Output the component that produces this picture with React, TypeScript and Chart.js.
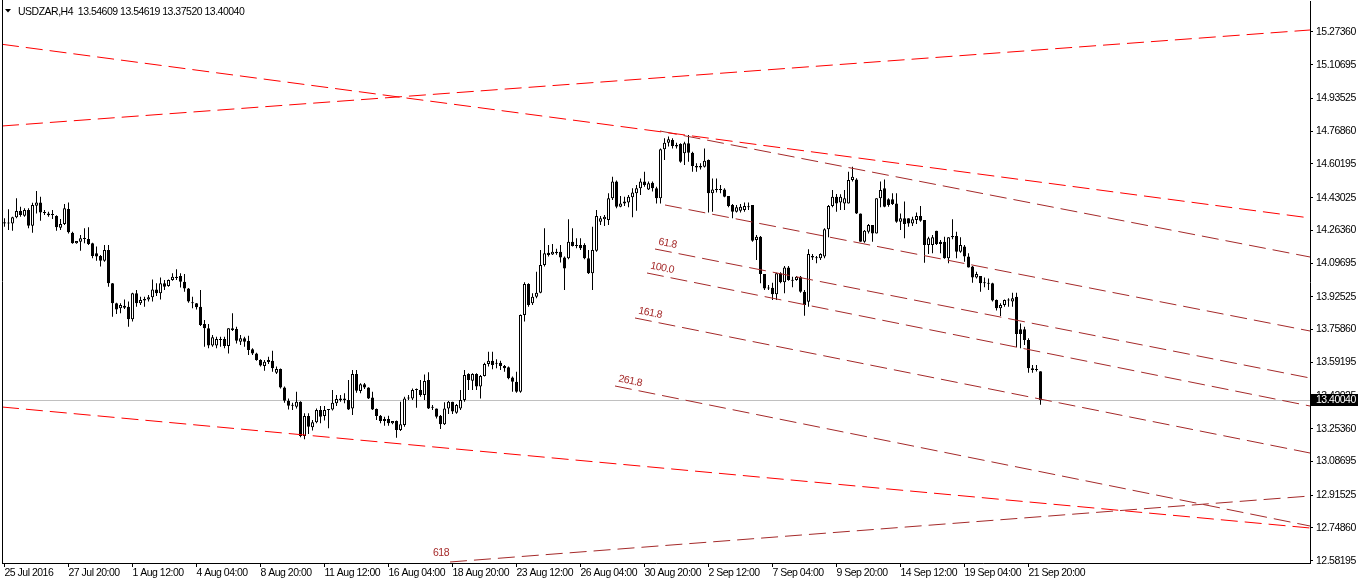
import React, { useEffect, useRef } from 'react';
import { Chart, registerables } from 'chart.js';

Chart.register(...registerables);

const titleText = 'USDZAR,H4  13.54609 13.54619 13.37520 13.40040';
const currentPrice = 13.4004;

const xTickLabels = [
  '25 Jul 2016', '27 Jul 20:00', '1 Aug 12:00', '4 Aug 04:00', '8 Aug 20:00', '11 Aug 12:00',
  '16 Aug 04:00', '18 Aug 20:00', '23 Aug 12:00', '26 Aug 04:00', '30 Aug 20:00', '2 Sep 12:00',
  '7 Sep 04:00', '9 Sep 20:00', '14 Sep 12:00', '19 Sep 04:00', '21 Sep 20:00',
];
const barsPerLabel = 16;

const yTickValues = [
  15.2736, 15.10695, 14.93525, 14.7686, 14.60195, 14.43025, 14.2636, 14.09695, 13.92525,
  13.7586, 13.59195, 13.42025, 13.2536, 13.08695, 12.91525, 12.7486, 12.58195,
];

const opens = [
  14.299, 14.299, 14.299, 14.330, 14.362, 14.338, 14.367, 14.287, 14.389, 14.406,
  14.354, 14.350, 14.342, 14.337, 14.277, 14.296, 14.372, 14.252, 14.198, 14.206,
  14.222, 14.220, 14.198, 14.147, 14.133, 14.109, 14.164, 13.994, 13.892, 13.867,
  13.880, 13.875, 13.811, 13.943, 13.892, 13.906, 13.912, 13.923, 13.963, 13.943,
  13.994, 13.980, 14.011, 14.028, 14.031, 14.002, 13.968, 13.897, 13.892, 13.875,
  13.787, 13.765, 13.677, 13.677, 13.707, 13.710, 13.675, 13.756, 13.761, 13.697,
  13.714, 13.700, 13.658, 13.637, 13.603, 13.573, 13.593, 13.600, 13.539, 13.558,
  13.464, 13.396, 13.373, 13.366, 13.391, 13.217, 13.318, 13.261, 13.286, 13.349,
  13.318, 13.352, 13.352, 13.383, 13.400, 13.408, 13.400, 13.357, 13.532, 13.446,
  13.480, 13.463, 13.412, 13.354, 13.320, 13.293, 13.303, 13.281, 13.293, 13.247,
  13.273, 13.408, 13.408, 13.451, 13.451, 13.425, 13.502, 13.361, 13.357, 13.320,
  13.276, 13.357, 13.391, 13.335, 13.357, 13.400, 13.532, 13.498, 13.532, 13.468,
  13.522, 13.583, 13.600, 13.585, 13.590, 13.573, 13.566, 13.515, 13.493, 13.442,
  13.833, 13.990, 13.892, 13.926, 13.946, 14.087, 14.150, 14.141, 14.155, 14.155,
  14.126, 14.121, 14.206, 14.184, 14.189, 14.189, 14.121, 14.045, 14.160, 14.308,
  14.320, 14.316, 14.427, 14.512, 14.384, 14.401, 14.405, 14.432, 14.452, 14.478,
  14.512, 14.472, 14.506, 14.478, 14.427, 14.676, 14.710, 14.724, 14.698, 14.703,
  14.656, 14.707, 14.659, 14.591, 14.584, 14.588, 14.622, 14.452, 14.469, 14.469,
  14.472, 14.439, 14.393, 14.359, 14.364, 14.367, 14.381, 14.393, 14.214, 14.231,
  14.041, 13.968, 13.972, 13.938, 14.045, 14.000, 14.075, 14.011, 14.011, 14.028,
  13.951, 13.900, 14.126, 14.126, 14.121, 14.130, 14.269, 14.388, 14.435, 14.405,
  14.401, 14.401, 14.520, 14.523, 14.350, 14.206, 14.257, 14.291, 14.248, 14.427,
  14.478, 14.422, 14.422, 14.401, 14.308, 14.325, 14.325, 14.299, 14.316, 14.337,
  14.316, 14.189, 14.189, 14.262, 14.206, 14.206, 14.121, 14.228, 14.235, 14.155,
  14.181, 14.130, 14.079, 14.024, 14.031, 13.994, 13.994, 13.994, 13.909, 13.867,
  13.884, 13.906, 13.901, 13.926, 13.760, 13.760, 13.705, 13.561, 13.553, 13.54609,
];

const highs = [
  14.325, 14.371, 14.333, 14.427, 14.384, 14.376, 14.376, 14.404, 14.464, 14.435,
  14.367, 14.359, 14.367, 14.340, 14.321, 14.398, 14.406, 14.257, 14.209, 14.240,
  14.274, 14.279, 14.201, 14.181, 14.138, 14.189, 14.189, 13.996, 13.895, 13.892,
  13.912, 13.901, 13.946, 13.960, 13.926, 13.926, 13.934, 14.014, 13.994, 14.024,
  14.011, 14.014, 14.045, 14.065, 14.045, 14.041, 13.970, 13.926, 13.894, 13.960,
  13.807, 13.787, 13.731, 13.722, 13.722, 13.722, 13.765, 13.841, 13.773, 13.731,
  13.722, 13.727, 13.663, 13.641, 13.607, 13.603, 13.620, 13.651, 13.570, 13.560,
  13.468, 13.408, 13.386, 13.442, 13.393, 13.332, 13.332, 13.298, 13.357, 13.369,
  13.369, 13.353, 13.451, 13.425, 13.425, 13.434, 13.502, 13.553, 13.553, 13.485,
  13.487, 13.465, 13.442, 13.357, 13.323, 13.315, 13.320, 13.293, 13.295, 13.391,
  13.417, 13.425, 13.459, 13.459, 13.502, 13.530, 13.541, 13.374, 13.357, 13.323,
  13.388, 13.395, 13.391, 13.380, 13.451, 13.553, 13.536, 13.536, 13.536, 13.527,
  13.590, 13.646, 13.646, 13.607, 13.600, 13.578, 13.570, 13.519, 13.544, 13.835,
  14.000, 13.994, 13.943, 14.053, 14.164, 14.274, 14.189, 14.194, 14.170, 14.189,
  14.130, 14.320, 14.274, 14.223, 14.223, 14.198, 14.164, 14.282, 14.367, 14.337,
  14.342, 14.452, 14.537, 14.517, 14.439, 14.435, 14.444, 14.478, 14.494, 14.528,
  14.562, 14.512, 14.512, 14.486, 14.681, 14.732, 14.741, 14.732, 14.710, 14.707,
  14.715, 14.749, 14.664, 14.605, 14.605, 14.681, 14.625, 14.528, 14.528, 14.494,
  14.478, 14.439, 14.398, 14.393, 14.398, 14.405, 14.405, 14.393, 14.240, 14.235,
  14.041, 13.985, 13.997, 14.048, 14.050, 14.082, 14.082, 14.028, 14.031, 14.031,
  13.960, 14.167, 14.143, 14.133, 14.147, 14.274, 14.393, 14.469, 14.449, 14.447,
  14.469, 14.562, 14.588, 14.529, 14.350, 14.265, 14.296, 14.291, 14.427, 14.512,
  14.523, 14.427, 14.452, 14.452, 14.350, 14.410, 14.325, 14.333, 14.354, 14.388,
  14.316, 14.231, 14.240, 14.262, 14.214, 14.231, 14.228, 14.320, 14.257, 14.228,
  14.189, 14.147, 14.082, 14.053, 14.031, 14.024, 14.019, 13.997, 13.912, 13.892,
  13.912, 13.918, 13.946, 13.946, 13.790, 13.773, 13.714, 13.578, 13.578, 13.54619,
];

const lows = [
  14.282, 14.265, 14.262, 14.325, 14.333, 14.333, 14.274, 14.252, 14.350, 14.313,
  14.342, 14.333, 14.321, 14.262, 14.265, 14.291, 14.248, 14.196, 14.196, 14.160,
  14.198, 14.189, 14.121, 14.109, 14.079, 14.104, 13.977, 13.824, 13.838, 13.841,
  13.863, 13.773, 13.799, 13.875, 13.884, 13.875, 13.901, 13.901, 13.929, 13.912,
  13.960, 13.977, 14.007, 14.011, 13.973, 13.951, 13.895, 13.867, 13.861, 13.777,
  13.671, 13.663, 13.671, 13.663, 13.671, 13.663, 13.637, 13.751, 13.688, 13.680,
  13.671, 13.629, 13.629, 13.600, 13.570, 13.549, 13.583, 13.544, 13.532, 13.459,
  13.386, 13.352, 13.349, 13.357, 13.210, 13.200, 13.227, 13.244, 13.281, 13.281,
  13.295, 13.256, 13.346, 13.369, 13.391, 13.383, 13.349, 13.323, 13.437, 13.434,
  13.456, 13.405, 13.349, 13.298, 13.281, 13.269, 13.269, 13.276, 13.208, 13.242,
  13.264, 13.400, 13.400, 13.361, 13.417, 13.400, 13.354, 13.349, 13.306, 13.252,
  13.273, 13.329, 13.329, 13.330, 13.349, 13.391, 13.451, 13.451, 13.451, 13.408,
  13.519, 13.570, 13.556, 13.561, 13.553, 13.544, 13.505, 13.442, 13.437, 13.437,
  13.799, 13.875, 13.884, 13.918, 13.943, 14.079, 14.130, 14.138, 14.140, 14.100,
  13.960, 14.116, 14.181, 14.172, 14.164, 14.116, 14.041, 13.960, 14.155, 14.291,
  14.286, 14.291, 14.418, 14.376, 14.381, 14.388, 14.381, 14.330, 14.364, 14.444,
  14.486, 14.469, 14.461, 14.401, 14.401, 14.622, 14.690, 14.681, 14.681, 14.608,
  14.596, 14.613, 14.562, 14.562, 14.574, 14.584, 14.354, 14.359, 14.456, 14.452,
  14.432, 14.381, 14.325, 14.354, 14.354, 14.359, 14.367, 14.206, 14.113, 13.994,
  13.960, 13.960, 13.909, 13.909, 13.994, 13.943, 14.007, 13.974, 14.007, 13.946,
  13.829, 13.875, 14.113, 14.096, 14.113, 14.121, 14.228, 14.381, 14.359, 14.367,
  14.367, 14.401, 14.512, 14.347, 14.206, 14.201, 14.248, 14.206, 14.248, 14.381,
  14.381, 14.384, 14.393, 14.303, 14.265, 14.223, 14.282, 14.286, 14.296, 14.308,
  14.099, 14.143, 14.147, 14.189, 14.147, 14.119, 14.096, 14.218, 14.121, 14.150,
  14.104, 14.075, 13.997, 14.019, 13.951, 13.974, 13.960, 13.901, 13.855, 13.828,
  13.875, 13.875, 13.875, 13.668, 13.663, 13.680, 13.539, 13.539, 13.545, 13.3752,
];

const closes = [
  14.305, 14.301, 14.330, 14.362, 14.342, 14.367, 14.287, 14.393, 14.406, 14.354,
  14.352, 14.340, 14.345, 14.279, 14.296, 14.376, 14.254, 14.198, 14.209, 14.223,
  14.220, 14.194, 14.133, 14.130, 14.109, 14.164, 13.994, 13.892, 13.861, 13.884,
  13.870, 13.811, 13.943, 13.892, 13.909, 13.914, 13.923, 13.963, 13.943, 13.994,
  13.977, 14.011, 14.028, 14.021, 14.002, 13.968, 13.901, 13.892, 13.872, 13.782,
  13.765, 13.677, 13.719, 13.710, 13.705, 13.675, 13.765, 13.765, 13.702, 13.714,
  13.697, 13.654, 13.637, 13.603, 13.575, 13.595, 13.603, 13.561, 13.558, 13.463,
  13.396, 13.371, 13.371, 13.391, 13.217, 13.318, 13.264, 13.286, 13.349, 13.315,
  13.349, 13.349, 13.386, 13.405, 13.408, 13.400, 13.352, 13.532, 13.447, 13.480,
  13.463, 13.408, 13.352, 13.318, 13.293, 13.303, 13.281, 13.293, 13.247, 13.276,
  13.408, 13.410, 13.451, 13.456, 13.425, 13.497, 13.357, 13.360, 13.315, 13.276,
  13.357, 13.391, 13.341, 13.374, 13.400, 13.527, 13.502, 13.532, 13.468, 13.522,
  13.583, 13.600, 13.578, 13.587, 13.573, 13.561, 13.510, 13.493, 13.442, 13.833,
  13.990, 13.884, 13.926, 13.946, 14.087, 14.147, 14.138, 14.155, 14.147, 14.126,
  14.070, 14.206, 14.184, 14.189, 14.172, 14.121, 14.045, 14.164, 14.337, 14.325,
  14.333, 14.427, 14.512, 14.384, 14.401, 14.410, 14.435, 14.456, 14.478, 14.512,
  14.494, 14.503, 14.478, 14.427, 14.676, 14.710, 14.727, 14.693, 14.690, 14.613,
  14.707, 14.659, 14.591, 14.584, 14.591, 14.618, 14.452, 14.472, 14.470, 14.472,
  14.435, 14.388, 14.359, 14.381, 14.384, 14.388, 14.382, 14.211, 14.231, 14.041,
  13.968, 13.972, 13.938, 14.045, 14.000, 14.075, 14.011, 14.007, 14.028, 13.951,
  13.884, 14.143, 14.133, 14.121, 14.143, 14.269, 14.388, 14.435, 14.401, 14.435,
  14.427, 14.520, 14.537, 14.350, 14.206, 14.262, 14.291, 14.248, 14.427, 14.469,
  14.384, 14.393, 14.398, 14.308, 14.325, 14.296, 14.299, 14.320, 14.337, 14.313,
  14.189, 14.223, 14.228, 14.194, 14.194, 14.121, 14.228, 14.235, 14.155, 14.189,
  14.130, 14.075, 14.024, 14.041, 13.994, 13.996, 13.992, 13.906, 13.867, 13.884,
  13.909, 13.906, 13.918, 13.736, 13.736, 13.705, 13.561, 13.553, 13.553, 13.4004,
];

// trend lines as [startBar, startPrice, endBar, endPrice]
const redTrendLines = [
  [-0.625, 15.211, 326.375, 14.3266],
  [-0.625, 14.795, 326.375, 15.2838],
  [-0.625, 13.3642, 326.375, 12.7482],
];
const fiboChannelLines = [
  [163.875, 14.7695, 326.375, 14.128],
  [165.125, 14.3928, 326.375, 13.7512],
  [162.625, 14.1687, 326.375, 13.5119],
  [160.625, 14.0465, 326.375, 13.3693],
  [157.625, 13.8174, 326.375, 13.13],
  [152.625, 13.4712, 326.375, 12.7584],
];
const fiboLevelLabels = ['', '', '61.8', '100.0', '161.8', '261.8'];
const lowerTrendLine = [111.375, 12.5751, 326.375, 12.9111];
const lowerTrendLabel = '618';

const X_MIN = -0.625;
const X_MAX = 326.375;
const Y_MIN = 12.56994;
const Y_MAX = 15.43144;

const FONT_FAMILY = '"Liberation Sans", Arial, sans-serif';
const FONT_SIZE = 10.5;
const LETTER_SPACING = '-0.5px';
const RED = '#FF0000';
const DARK_RED = '#A52A2A';

export default function App() {
  const canvasRef = useRef<HTMLCanvasElement | null>(null);

  useEffect(() => {
    document.body.style.margin = '0';
    document.body.style.overflow = 'hidden';
    const canvas = canvasRef.current;
    if (!canvas) return;

    const wickData = opens.map((_, i) => ({ x: i, y: [lows[i], highs[i]] }));
    const bodyData = opens.map((o, i) => ({ x: i, y: [o, closes[i]] }));
    const bodyColors = opens.map((o, i) => (closes[i] >= o ? '#FFFFFF' : '#000000'));

    const lineDataset = (seg: number[], color: string) => ({
      type: 'line' as const,
      data: [
        { x: seg[0], y: seg[1] },
        { x: seg[2], y: seg[3] },
      ],
      borderColor: color,
      borderWidth: 1,
      borderDash: [17, 7],
      pointRadius: 0,
      fill: false,
      tension: 0,
      order: 0,
    });

    const setSpacing = (chart: any) => {
      try {
        (chart.ctx as any).letterSpacing = LETTER_SPACING;
      } catch (e) {
        /* ignore */
      }
    };

    const overlay = {
      id: 'mtOverlay',
      beforeLayout(chart: any) {
        setSpacing(chart);
      },
      beforeDraw(chart: any) {
        const { ctx, width, height } = chart;
        setSpacing(chart);
        ctx.save();
        ctx.fillStyle = '#FFFFFF';
        ctx.fillRect(0, 0, width, height);
        ctx.restore();
      },
      beforeDatasetsDraw(chart: any) {
        const { ctx, chartArea, scales } = chart;
        const y = Math.round(scales.y.getPixelForValue(currentPrice)) + 0.5;
        ctx.save();
        ctx.strokeStyle = '#C0C0C0';
        ctx.lineWidth = 1;
        ctx.beginPath();
        ctx.moveTo(chartArea.left, y);
        ctx.lineTo(chartArea.right, y);
        ctx.stroke();
        ctx.restore();
      },
      afterDraw(chart: any) {
        const { ctx, chartArea, scales } = chart;
        const xs = scales.x;
        const ys = scales.y;
        ctx.save();
        ctx.strokeStyle = '#000';
        ctx.lineWidth = 1;
        ctx.beginPath();
        ctx.moveTo(chartArea.left + 0.5, 0);
        ctx.lineTo(chartArea.left + 0.5, chartArea.bottom);
        ctx.stroke();

        ctx.font = `${FONT_SIZE}px ${FONT_FAMILY}`;
        ctx.fillStyle = '#000';
        ctx.beginPath();
        ctx.moveTo(5, 9);
        ctx.lineTo(11, 9);
        ctx.lineTo(8, 12.5);
        ctx.closePath();
        ctx.fill();
        ctx.textBaseline = 'alphabetic';
        ctx.textAlign = 'left';
        ctx.fillText(titleText, 18, 15);

        ctx.fillStyle = DARK_RED;
        fiboChannelLines.forEach((seg, k) => {
          const label = fiboLevelLabels[k];
          if (!label) return;
          const x1 = xs.getPixelForValue(seg[0]);
          const y1 = ys.getPixelForValue(seg[1]);
          const x2 = xs.getPixelForValue(seg[2]);
          const y2 = ys.getPixelForValue(seg[3]);
          const ang = Math.atan2(y2 - y1, x2 - x1);
          ctx.save();
          ctx.translate(x1, y1);
          ctx.rotate(ang);
          ctx.fillText(label, 2, -5);
          ctx.restore();
        });
        {
          const x1 = xs.getPixelForValue(lowerTrendLine[0]);
          const y1 = ys.getPixelForValue(lowerTrendLine[1]);
          ctx.textAlign = 'right';
          ctx.fillText(lowerTrendLabel, x1 - 1, y1 - 6);
        }

        const py = Math.round(ys.getPixelForValue(currentPrice));
        ctx.fillStyle = '#000';
        ctx.fillRect(chartArea.right + 1, py - 6, chart.width - chartArea.right - 1, 12);
        ctx.fillStyle = '#FFF';
        ctx.textAlign = 'left';
        ctx.textBaseline = 'middle';
        ctx.fillText(currentPrice.toFixed(5), chartArea.right + 6, py + 0.5);
        ctx.restore();
      },
    };

    const font = { family: FONT_FAMILY, size: FONT_SIZE };

    const chart = new Chart(canvas, {
      type: 'bar',
      data: {
        datasets: [
          {
            type: 'bar',
            data: wickData as any,
            backgroundColor: '#000000',
            borderWidth: 0,
            barThickness: 1,
            maxBarThickness: 1,
            grouped: false,
            minBarLength: 1,
            inflateAmount: 0,
            order: 2,
          } as any,
          {
            type: 'bar',
            data: bodyData as any,
            backgroundColor: bodyColors,
            borderColor: '#000000',
            borderWidth: 1,
            borderSkipped: false,
            barThickness: 3,
            maxBarThickness: 3,
            grouped: false,
            minBarLength: 1,
            inflateAmount: 0,
            order: 1,
          } as any,
          ...redTrendLines.map((s) => lineDataset(s, RED)),
          ...fiboChannelLines.map((s) => lineDataset(s, DARK_RED)),
          lineDataset(lowerTrendLine, DARK_RED),
        ] as any,
      },
      options: {
        responsive: false,
        animation: false,
        devicePixelRatio: 1,
        events: [],
        layout: { padding: { left: 2, top: 1, right: 0, bottom: 0 } },
        plugins: { legend: { display: false }, tooltip: { enabled: false } },
        scales: {
          x: {
            type: 'linear',
            min: X_MIN,
            max: X_MAX,
            offset: false,
            grid: { drawOnChartArea: false, drawTicks: true, tickLength: 4, color: '#000', offset: false },
            border: { display: true, color: '#000', width: 1 },
            ticks: {
              autoSkip: false,
              maxRotation: 0,
              minRotation: 0,
              align: 'start',
              padding: 0,
              color: '#000',
              font,
              callback: (_v: any, index: number) => xTickLabels[index],
            },
            afterBuildTicks: (scale: any) => {
              scale.ticks = xTickLabels.map((_, k) => ({ value: k * barsPerLabel }));
            },
            afterFit: (scale: any) => {
              scale.height = 21;
              scale.paddingLeft = 0;
              scale.paddingRight = 0;
            },
          } as any,
          y: {
            type: 'linear',
            position: 'right',
            min: Y_MIN,
            max: Y_MAX,
            beginAtZero: false,
            grid: { drawOnChartArea: false, drawTicks: true, tickLength: 3, color: '#000' },
            border: { display: true, color: '#000', width: 1 },
            ticks: {
              autoSkip: false,
              padding: 3,
              color: '#000',
              font,
              callback: (v: any) => Number(v).toFixed(5),
            },
            afterBuildTicks: (scale: any) => {
              scale.ticks = yTickValues.map((v) => ({ value: v }));
            },
            afterFit: (scale: any) => {
              scale.width = 48;
              scale.paddingTop = 0;
              scale.paddingBottom = 0;
            },
          } as any,
        },
      },
      plugins: [overlay],
    });

    return () => {
      chart.destroy();
    };
  }, []);

  return <canvas ref={canvasRef} width={1358} height={584} style={{ display: 'block' }} />;
}
